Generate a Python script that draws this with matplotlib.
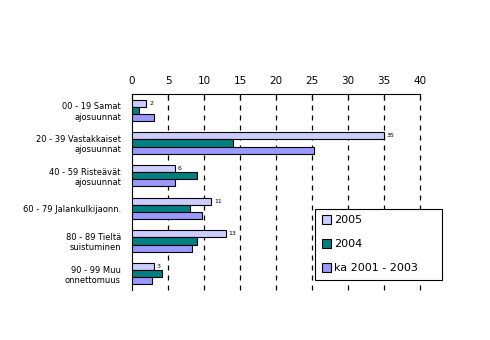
import numpy as np
import matplotlib.pyplot as plt

categories = ["00 - 19 Samat\najosuunnat", "20 - 39 Vastakkaiset\najosuunnat",
              "40 - 59 Risteävät\najosuunnat", "60 - 79 Jalankulkijaonn.",
              "80 - 89 Tieltä\nsuistuminen", "90 - 99 Muu\nonnettomuus"]
v2005 = [2, 35, 6, 11, 13, 3]
v2004 = [1, 14, 9, 8, 9, 4.2]
vka = [3, 25.3, 6, 9.7, 8.3, 2.8]
series = ["2005", "2004", "ka 2001 - 2003"]
colors = ["#CCCCFF", "#008080", "#9999FF"]

fig = plt.figure(figsize=(4.9, 3.4), dpi=100)
ax = fig.add_axes([132/490, 50/340, 288/490, 196/340])

y = np.arange(len(categories))
h = 0.22
for i, (vals, c, lab) in enumerate(zip([v2005, v2004, vka], colors, series)):
    bars = ax.barh(y + (i - 1) * h, vals, height=h, color=c, edgecolor="black",
                   linewidth=0.8, label=lab, zorder=3)
    if i == 0:
        for b, v in zip(bars, vals):
            ax.text(v + 0.4, b.get_y() + b.get_height() / 2, str(v),
                    fontsize=4.5, va="center", ha="left")

ax.set_xlim(0, 40)
ax.set_ylim(len(categories) - 0.5, -0.5)
ax.set_xticks(range(0, 41, 5))
ax.xaxis.tick_top()
ax.tick_params(axis="x", direction="in", length=4, labelsize=7.5, pad=6)
ax.set_yticks(y)
ax.set_yticklabels(categories, fontsize=6)
ax.tick_params(axis="y", length=0, pad=8)
for xv in range(5, 41, 5):
    ax.axvline(xv, linestyle=(0, (4, 4)), color="black", linewidth=0.9,
               zorder=0, clip_on=False)
for s in ["right", "bottom"]:
    ax.spines[s].set_visible(False)

leg = fig.legend(loc="lower left", bbox_to_anchor=(315/490, 60/340, 127/490, 75/340),
                 mode="expand", borderaxespad=0, fontsize=8, frameon=True,
                 fancybox=False, edgecolor="black", handlelength=0.8,
                 handleheight=0.8, labelspacing=1.25, borderpad=0.6,
                 handletextpad=0.3, framealpha=1)
leg.get_frame().set_linewidth(0.8)

fig.savefig("out.png", dpi=100)
